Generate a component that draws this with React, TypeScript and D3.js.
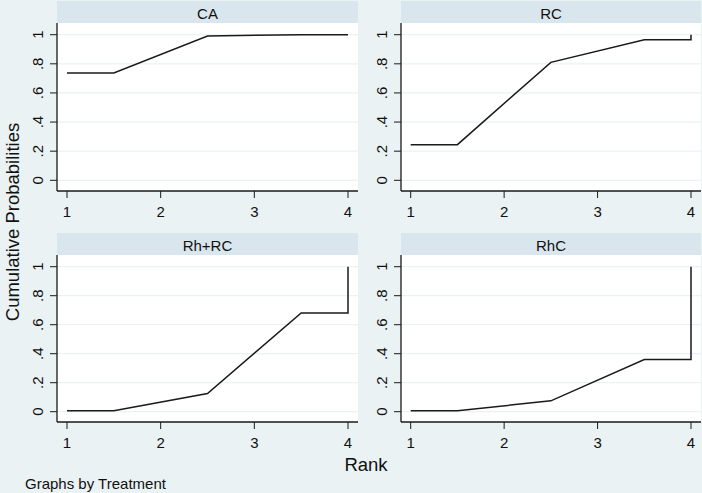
import * as d3 from "d3";

const treatments = ["CA", "RC", "Rh+RC", "RhC"];
const ranks = [1, 2, 3, 4];
const yTicks = [0, 0.2, 0.4, 0.6, 0.8, 1];
const yTickLabels = ["0", ".2", ".4", ".6", ".8", "1"];

// cumulative probability of being at rank <= k
const caProbs = [0.737, 0.991, 1.0, 1.0];
const rcProbs = [0.245, 0.81, 0.966, 1.0];
const rhRcProbs = [0.007, 0.125, 0.681, 1.0];
const rhcProbs = [0.007, 0.075, 0.36, 1.0];

const probsByTreatment = [caProbs, rcProbs, rhRcProbs, rhcProbs];

const BG = "#eaf2f3";
const STRIP = "#d9e6ed";
const FONT = "Liberation Sans, Arial, sans-serif";

// panel boxes in page pixels
const panels = [
  { left: 57, right: 358, stripTop: 1, top: 23, bottom: 191, x1: 67, x4: 348, y0: 180.3, y1: 34.7 },
  { left: 401, right: 701, stripTop: 1, top: 23, bottom: 191, x1: 410.7, x4: 691, y0: 180.3, y1: 34.7 },
  { left: 57, right: 358, stripTop: 233, top: 255, bottom: 422, x1: 67, x4: 348, y0: 411.7, y1: 266.7 },
  { left: 401, right: 701, stripTop: 233, top: 255, bottom: 422, x1: 410.7, x4: 691, y0: 411.7, y1: 266.7 },
];

function Panel({ idx }: { idx: number }) {
  const p = panels[idx];
  const probs = probsByTreatment[idx];
  const x = d3.scaleLinear().domain([1, 4]).range([p.x1, p.x4]);
  const y = d3.scaleLinear().domain([0, 1]).range([p.y0, p.y1]);

  // Stata-style cumulative rank plot: flat half steps at the ends
  const pts: [number, number][] = [
    [1, probs[0]],
    [1.5, probs[0]],
    [2.5, probs[1]],
    [3.5, probs[2]],
    [4, probs[2]],
    [4, probs[3]],
  ];
  const line = d3
    .line<[number, number]>()
    .x((d) => x(d[0]))
    .y((d) => y(d[1]));

  const midX = (p.left + p.right) / 2;

  return (
    <g>
      <rect x={p.left} y={p.stripTop} width={p.right - p.left} height={p.top - p.stripTop} fill={STRIP} />
      <text x={midX} y={p.stripTop + 17.5} textAnchor="middle" fontSize={15} fontFamily={FONT} fill="#111">
        {treatments[idx]}
      </text>
      <rect x={p.left} y={p.top} width={p.right - p.left} height={p.bottom - p.top} fill="#fff" />
      {yTicks.map((t) => (
        <line key={"g" + t} x1={p.left} x2={p.right} y1={y(t)} y2={y(t)} stroke={BG} strokeWidth={1.2} />
      ))}
      <path d={line(pts) || ""} fill="none" stroke="#1a1a1a" strokeWidth={1.5} />
      <line x1={p.left} x2={p.left} y1={p.top} y2={p.bottom} stroke="#1a1a1a" strokeWidth={1.3} />
      <line x1={p.left} x2={p.right} y1={p.bottom} y2={p.bottom} stroke="#1a1a1a" strokeWidth={1.3} />
      {yTicks.map((t, i) => (
        <g key={"y" + t}>
          <line x1={p.left - 7} x2={p.left} y1={y(t)} y2={y(t)} stroke="#1a1a1a" strokeWidth={1} />
          <text
            transform={`translate(${p.left - 14},${y(t)}) rotate(-90)`}
            textAnchor="middle"
            fontSize={15}
            fontFamily={FONT}
            fill="#111"
          >
            {yTickLabels[i]}
          </text>
        </g>
      ))}
      {ranks.map((r) => (
        <g key={"x" + r}>
          <line x1={x(r)} x2={x(r)} y1={p.bottom} y2={p.bottom + 7} stroke="#1a1a1a" strokeWidth={1} />
          <text x={x(r)} y={p.bottom + 26} textAnchor="middle" fontSize={15} fontFamily={FONT} fill="#111">
            {r}
          </text>
        </g>
      ))}
    </g>
  );
}

export default function App() {
  return (
    <svg width={702} height={493} style={{ display: "block", position: "absolute", left: 0, top: 0 }}>
      <rect x={0} y={0} width={702} height={493} fill={BG} />
      {treatments.map((t, i) => (
        <Panel key={t} idx={i} />
      ))}
      <text
        transform="translate(19,222) rotate(-90)"
        textAnchor="middle"
        fontSize={18.5}
        fontFamily={FONT}
        fill="#111"
      >
        Cumulative Probabilities
      </text>
      <text x={366} y={470.5} textAnchor="middle" fontSize={18.5} fontFamily={FONT} fill="#111">
        Rank
      </text>
      <text x={25} y={489} fontSize={15} fontFamily={FONT} fill="#111">
        Graphs by Treatment
      </text>
    </svg>
  );
}
